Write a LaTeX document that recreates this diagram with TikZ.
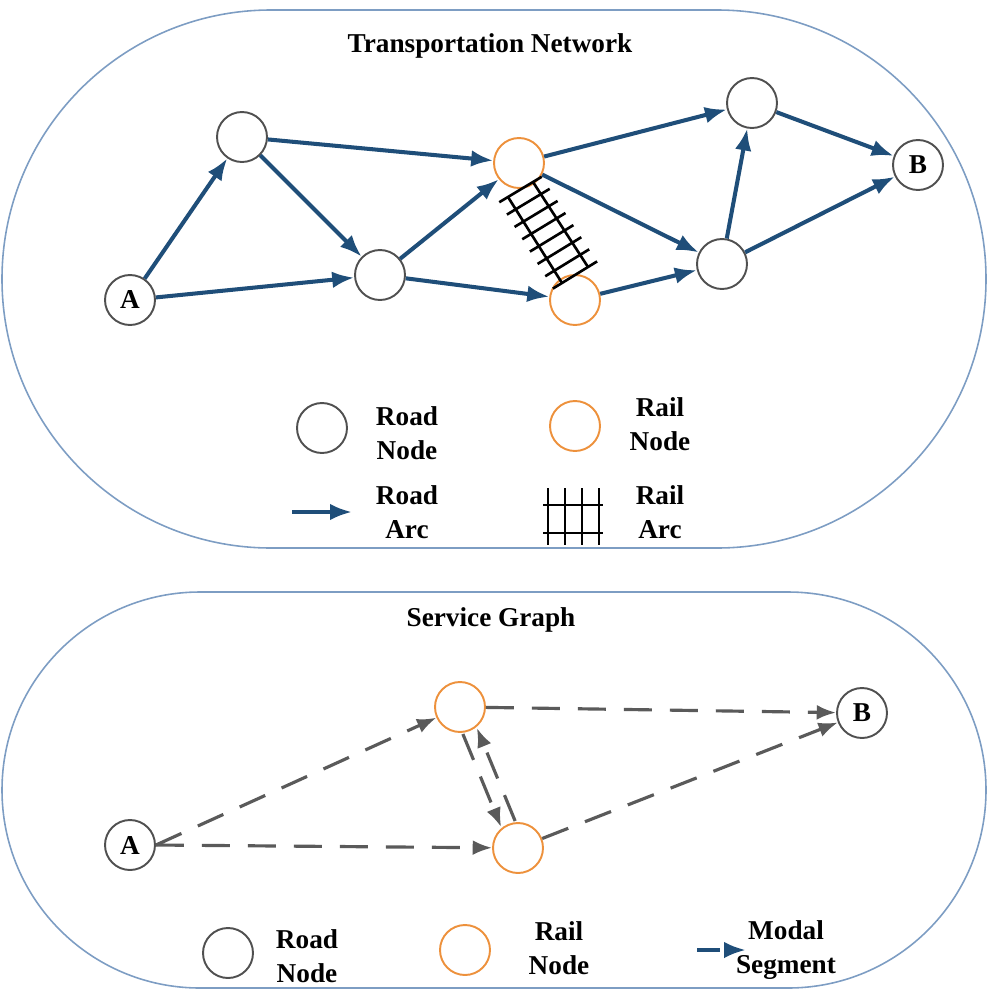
\documentclass[tikz,border=0pt]{standalone}
\usepackage{fontspec}
\setmainfont{Liberation Serif}
\usetikzlibrary{arrows.meta,calc}

\definecolor{roadblue}{RGB}{31,78,121}
\definecolor{railorange}{RGB}{237,145,60}
\definecolor{panelblue}{RGB}{125,157,195}
\definecolor{nodegray}{RGB}{80,80,80}
\definecolor{seggray}{RGB}{90,90,90}

\begin{document}
\begin{tikzpicture}[x=0.02cm, y=-0.02cm,
    panel/.style={draw=panelblue, line width=0.9pt},
    lbl/.style={font=\fontsize{15.5}{19}\selectfont\bfseries, align=center, inner sep=0pt},
    road/.style={circle, draw=nodegray, line width=1.1pt, minimum size=1cm, inner sep=0pt,
        font=\fontsize{15.5}{19}\selectfont\bfseries},
    rail/.style={road, draw=railorange},
    roadarc/.style={draw=roadblue, line width=2.3pt, -{Latex[length=12.5pt,width=9.5pt]}},
    railarc/.style={black, line width=1.5pt},
    modal/.style={draw=seggray, line width=1.8pt, dash pattern=on 0.56cm off 0.36cm,
        -{Latex[length=11pt,width=8.5pt]}}]
    \useasboundingbox (0,0) rectangle (988,991);

    % the two panels
    \draw[panel, rounded corners=5.38cm] (2,10) rectangle (986,548);
    \draw[panel, rounded corners=3.96cm] (2,592) rectangle (986,988);

    % transportation network
    \node[lbl] (tTitle) at (490,46) {Transportation Network};
    \node[road] (tA) at (130,300) {A};
    \node[road] (t1) at (242,137) {};
    \node[road] (t2) at (380,275) {};
    \node[rail] (tR1) at (519,163) {};
    \node[rail] (tR2) at (575,300) {};
    \node[road] (t3) at (722,264) {};
    \node[road] (t4) at (752,103) {};
    \node[road] (tB) at (918,165) {B};

    \draw[roadarc] (tA) -- (t1);
    \draw[roadarc] (tA) -- (t2);
    \draw[roadarc] (t1) -- (t2);
    \draw[roadarc] (t1) -- (tR1);
    \draw[roadarc] (t2) -- (tR1);
    \draw[roadarc] (t2) -- (tR2);
    \draw[roadarc] (tR1) -- (t3);
    \draw[roadarc] (tR1) -- (t4);
    \draw[roadarc] (tR2) -- (t3);
    \draw[roadarc] (t3) -- (t4);
    \draw[roadarc] (t3) -- (tB);
    \draw[roadarc] (t4) -- (tB);

    % rail track between the rail nodes
    \coordinate (lt) at (508,197);
    \coordinate (lb) at (562,283);
    \coordinate (rt) at (533,182);
    \coordinate (rb) at (588,267);
    \draw[railarc] (lt) -- (lb) (rt) -- (rb);
    \foreach \i in {0,...,7}{
        \pgfmathsetmacro\f{\i/7}
        \path ($(lt)!\f!(lb)$) coordinate (u) ($(rt)!\f!(rb)$) coordinate (v);
        \draw[railarc] ($(u)!-0.35!(v)$) -- ($(v)!-0.35!(u)$);
    }

    % legend, top
    \node[road] (lgRoad) at (322,428) {};
    \node[lbl] (lgRoadTxt) at (407,433) {Road\\Node};
    \node[rail] (lgRail) at (575,426) {};
    \node[lbl] (lgRailTxt) at (660,424) {Rail\\Node};
    \coordinate (arcS) at (292,512);
    \coordinate (arcE) at (352,512);
    \draw[roadarc] (arcS) -- (arcE);
    \node[lbl] (lgArcTxt) at (407,512) {Road\\Arc};
    \draw[railarc] (543,505) -- (603,505) (543,533) -- (603,533);
    \foreach \x in {548,565,582,599}
        \draw[railarc] (\x,488) -- (\x,545);
    \node[lbl] (lgTrackTxt) at (660,512) {Rail\\Arc};

    % service graph
    \node[lbl] (sTitle) at (491,620) {Service Graph};
    \node[road] (sA) at (130,845) {A};
    \node[rail] (sR1) at (460,707) {};
    \node[rail] (sR2) at (518,848) {};
    \node[road] (sB) at (862,713) {B};

    \draw[modal] (sA.east) -- (sR1);
    \draw[modal] (sA.east) -- (sR2);
    \draw[modal] (sR1) -- (sB);
    \draw[modal] (sR2) -- (sB);
    \draw[modal, transform canvas={shift={(-7,3)}}] (sR1) -- (sR2);
    \draw[modal, transform canvas={shift={(7,-3)}}] (sR2) -- (sR1);

    % legend, bottom
    \node[road] (lgRoad2) at (228,953) {};
    \node[lbl] (lgRoadTxt2) at (307,956) {Road\\Node};
    \node[rail] (lgRail2) at (465,950) {};
    \node[lbl] (lgRailTxt2) at (559,948) {Rail\\Node};
    \coordinate (mS) at (697,950);
    \coordinate (mE) at (746,950);
    \draw[roadarc, dash pattern=on 0.46cm off 0.3cm] (mS) -- (mE);
    \node[lbl] (lgSegTxt) at (786,950) {Modal\\Segment};
\end{tikzpicture}
\end{document}
